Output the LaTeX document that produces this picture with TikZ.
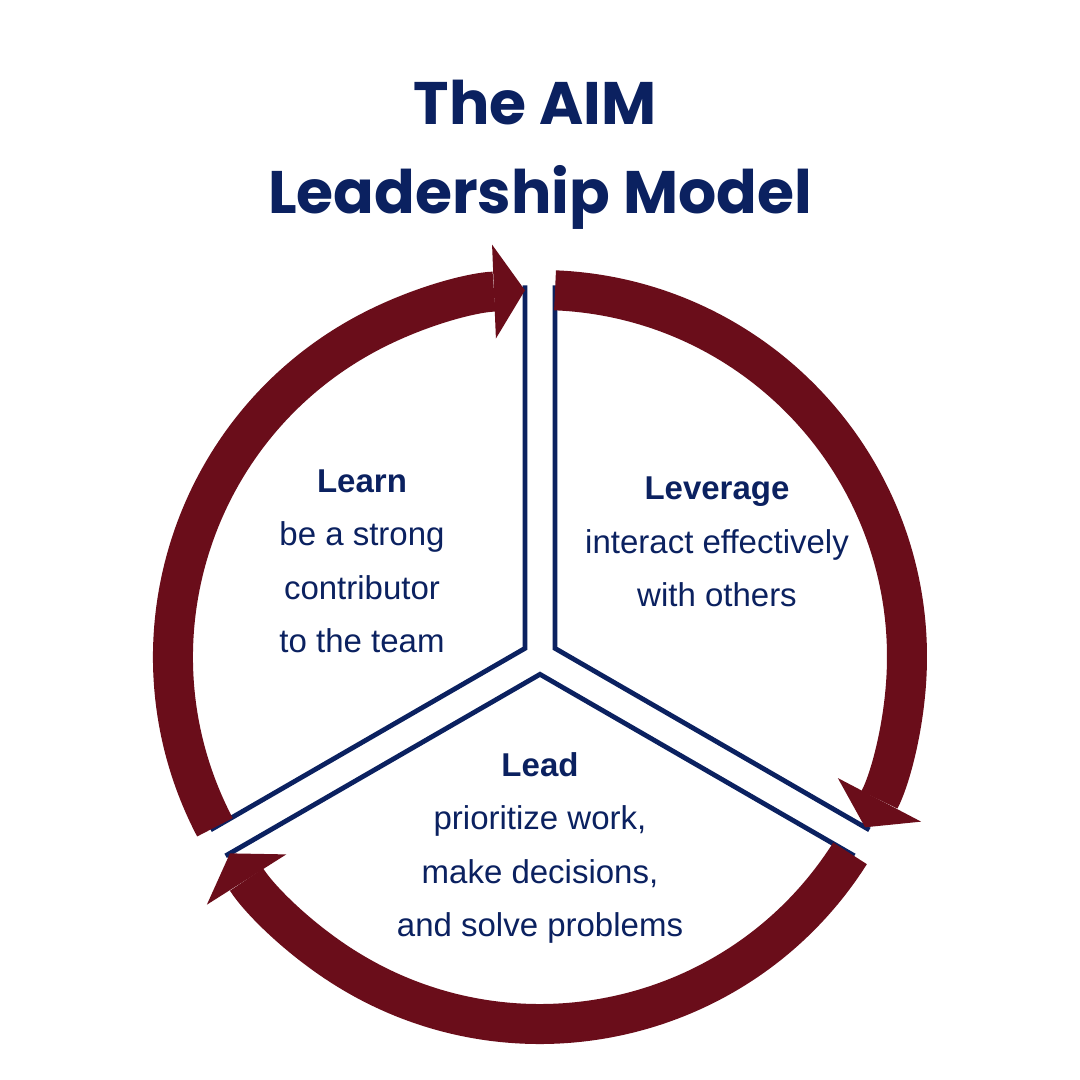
\documentclass[tikz,border=0pt]{standalone}
\usepackage{fontspec}
\setmainfont{Liberation Sans}
\newfontfamily\titlefont{Poppins}
\definecolor{aimnavy}{RGB}{11,33,96}
\definecolor{aimmaroon}{RGB}{106,13,26}
\usetikzlibrary{arrows.meta, calc}

\tikzset{
  cyclearrow/.style={draw=aimmaroon, line width=40pt,
    -{Triangle[length=31pt 0 0, width=94pt 0 0, line width=0pt 0 0]}},
  gapline/.style={draw=aimnavy, line width=4.8pt},
  sectortext/.style={text=aimnavy, font=\fontsize{33}{53.5}\selectfont, align=center, anchor=base},
  titletext/.style={text=aimnavy, font=\titlefont\bfseries\fontsize{60}{60}\selectfont, anchor=base}
}

\begin{document}
\begin{tikzpicture}[x=1pt, y=1pt]
  \fill[white] (0,0) rectangle (1080,1080);
  \useasboundingbox (0,0) rectangle (1080,1080);

  % title
  \node[titletext] (titletop) at (535,955) {The AIM};
  \node[titletext] (titlebottom) at (540,866) {Leadership Model};

  % centre of the cycle and the three inner corners
  \coordinate (C) at (540,423);
  \coordinate (learncorner) at ($(C)+(150:17.32)$);
  \coordinate (leveragecorner) at ($(C)+(30:17.32)$);
  \coordinate (leadcorner) at ($(C)+(270:17.32)$);

  % navy borders of the sectors
  \draw[gapline] ($(learncorner)+(90:363)$) -- (learncorner) -- ++(210:363);
  \draw[gapline] ($(leveragecorner)+(90:363)$) -- (leveragecorner) -- ++(330:363);
  \draw[gapline] ($(leadcorner)+(210:363)$) -- (leadcorner) -- ++(330:363);

  % maroon arrows, clockwise
  \draw[cyclearrow] ($(C)+(207.65:367)$) arc[start angle=207.65, end angle=92.35, radius=367];
  \draw[cyclearrow] ($(C)+(87.65:367)$) arc[start angle=87.65, end angle=-27.65, radius=367];
  \draw[cyclearrow] ($(C)+(-32.35:367)$) arc[start angle=-32.35, end angle=-147.65, radius=367];

  % sector texts (anchored on the last line)
  \node[sectortext] (learn) at (362,427) {\textbf{Learn}\\be a strong\\contributor\\to the team};
  \node[sectortext] (leverage) at (717,473) {\textbf{Leverage}\\interact effectively\\with others};
  \node[sectortext] (lead) at (540,143) {\textbf{Lead}\\prioritize work,\\make decisions,\\and solve problems};
\end{tikzpicture}
\end{document}
